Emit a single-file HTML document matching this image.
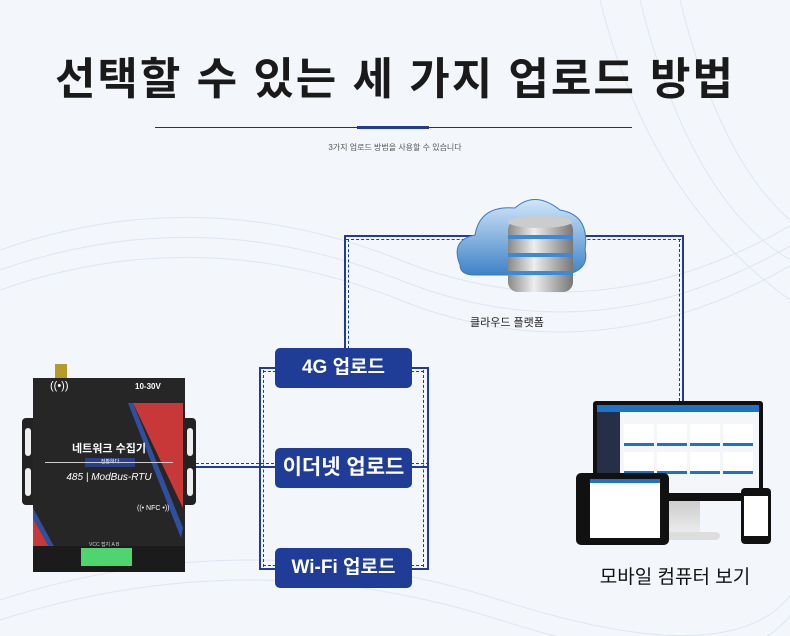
<!DOCTYPE html>
<html><head><meta charset="utf-8"><style>
*{margin:0;padding:0;box-sizing:border-box}
body{width:790px;height:636px;overflow:hidden;background:#f3f6fb;font-family:"Liberation Sans","Noto Sans CJK KR",sans-serif;position:relative}
.a{position:absolute}
.btn{position:absolute;background:#1f3d96;color:#fff;border-radius:5px;font-weight:bold;text-align:center;font-size:19px}
.sol{position:absolute;background:#1f3d96}
.ds{position:absolute;border:0 dashed #1f3d96}
.g{position:absolute;width:30px;height:22px;background:#fff;border-bottom:3px solid #1e73c8}
</style></head><body>
<svg class="a" style="left:0;top:0" width="790" height="636">
<g stroke="#dfe6f1" fill="none" stroke-width="1">
<path d="M0 250 Q200 180 400 260 T800 220"/><path d="M0 270 Q200 200 400 280 T800 240"/><path d="M0 290 Q200 220 400 300 T800 260"/>
<path d="M0 600 Q250 520 500 600 T800 580"/><path d="M0 620 Q250 540 500 620 T800 600"/>
<path d="M600 0 Q650 200 790 300"/><path d="M640 0 Q690 200 790 260"/><path d="M680 0 Q720 160 790 220"/>
</g></svg>
<div class="a" style="left:0;top:43px;width:790px;text-align:center;font-size:44px;font-weight:bold;color:#1a1a1a;letter-spacing:2px">선택할 수 있는 세 가지 업로드 방법</div>
<div class="a" style="left:155px;top:127px;width:477px;height:1px;background:#333"></div>
<div class="a" style="left:357px;top:126px;width:72px;height:3px;background:#1f3d96"></div>
<div class="a" style="left:0;top:142px;width:790px;text-align:center;font-size:8px;color:#555">3가지 업로드 방법을 사용할 수 있습니다</div>

<div class="sol" style="left:344px;top:235px;width:340px;height:2px"></div>
<div class="ds" style="left:346px;top:239px;width:335px;border-top-width:1px"></div>
<div class="sol" style="left:344px;top:235px;width:2px;height:115px"></div>
<div class="ds" style="left:348px;top:239px;height:110px;border-left-width:1px"></div>
<div class="sol" style="left:682px;top:235px;width:2px;height:168px"></div>
<div class="ds" style="left:679px;top:239px;height:162px;border-left-width:1px"></div>
<div class="sol" style="left:259px;top:367px;width:2px;height:203px"></div>
<div class="ds" style="left:263px;top:370px;height:197px;border-left-width:1px"></div>
<div class="sol" style="left:427px;top:367px;width:2px;height:203px"></div>
<div class="ds" style="left:423px;top:370px;height:197px;border-left-width:1px"></div>
<div class="sol" style="left:259px;top:367px;width:170px;height:2px"></div>
<div class="ds" style="left:263px;top:371px;width:161px;border-top-width:1px"></div>
<div class="sol" style="left:259px;top:568px;width:170px;height:2px"></div>
<div class="ds" style="left:263px;top:565px;width:161px;border-top-width:1px"></div>
<div class="sol" style="left:196px;top:466px;width:233px;height:2px"></div>
<div class="ds" style="left:196px;top:463px;width:233px;border-top-width:1px"></div>

<div class="btn" style="left:275px;top:348px;width:137px;height:40px;line-height:40px">4G 업로드</div>
<div class="btn" style="left:275px;top:448px;width:137px;height:40px;line-height:40px;font-size:21px">이더넷 업로드</div>
<div class="btn" style="left:275px;top:548px;width:137px;height:40px;line-height:40px">Wi-Fi 업로드</div>

<svg class="a" style="left:450px;top:190px" width="150" height="110">
<defs><linearGradient id="c" x1="0" y1="0" x2="0" y2="1"><stop offset="0" stop-color="#d2e6f8"/><stop offset="1" stop-color="#3f82c7"/></linearGradient>
<linearGradient id="d" x1="0" y1="0" x2="1" y2="0"><stop offset="0" stop-color="#888"/><stop offset=".4" stop-color="#eee"/><stop offset="1" stop-color="#777"/></linearGradient></defs>
<path d="M10 75 Q0 50 25 45 Q30 15 65 18 Q85 0 110 20 Q140 25 135 60 Q140 80 115 85 L25 85 Q10 85 10 75Z" fill="url(#c)" stroke="#3b79bf"/>
<rect x="58" y="30" width="65" height="72" rx="10" fill="url(#d)"/>
<rect x="58" y="45" width="65" height="4" fill="#3b8ad8"/><rect x="58" y="63" width="65" height="4" fill="#3b8ad8"/><rect x="58" y="81" width="65" height="4" fill="#3b8ad8"/>
<ellipse cx="90" cy="32" rx="32" ry="6" fill="#ccc"/>
</svg>
<div class="a" style="left:470px;top:314px;font-size:11px;color:#222">클라우드 플랫폼</div>

<div class="a" style="left:55px;top:364px;width:12px;height:18px;background:#b49b2a"></div>
<div class="a" style="left:22px;top:418px;width:174px;height:87px;background:#222;border-radius:4px"></div>
<div class="a" style="left:25px;top:428px;width:6px;height:28px;background:#eee;border-radius:3px"></div>
<div class="a" style="left:25px;top:468px;width:6px;height:28px;background:#eee;border-radius:3px"></div>
<div class="a" style="left:187px;top:428px;width:6px;height:28px;background:#eee;border-radius:3px"></div>
<div class="a" style="left:187px;top:468px;width:6px;height:28px;background:#eee;border-radius:3px"></div>
<div class="a" style="left:33px;top:378px;width:152px;height:194px;background:#262626"></div>
<svg class="a" style="left:33px;top:378px" width="152" height="194">
<polygon points="100,25 150,25 150,130" fill="#c83838"/><polygon points="95,25 100,25 150,150 148,160" fill="#2f4fa0"/>
<polygon points="0,140 0,194 30,194" fill="#c83838"/><polygon points="0,130 35,194 30,194 0,140" fill="#2f4fa0"/>
</svg>
<div class="a" style="left:135px;top:382px;font-size:8px;color:#fff;font-weight:bold">10-30V</div>
<div class="a" style="left:50px;top:380px;color:#fff;font-size:11px">((•))</div>
<div class="a" style="left:33px;top:440px;width:152px;text-align:center;color:#fff;font-size:11px;font-weight:bold">네트워크 수집기</div>
<div class="a" style="left:85px;top:458px;width:50px;height:9px;background:#2a3f8a;color:#fff;font-size:5px;text-align:center;line-height:9px">전환하다</div>
<div class="a" style="left:45px;top:462px;width:128px;height:1px;background:#ccc"></div>
<div class="a" style="left:33px;top:472px;width:152px;text-align:center;color:#fff;font-size:10px;font-style:italic">485 | ModBus-RTU</div>
<div class="a" style="left:137px;top:505px;color:#fff;font-size:7px">((• NFC •))</div>
<div class="a" style="left:33px;top:546px;width:152px;height:26px;background:#1b1b1b"></div>
<div class="a" style="left:89px;top:541px;font-size:5px;color:#ccc">VCC 접지 A B</div>
<div class="a" style="left:81px;top:548px;width:51px;height:18px;background:#4fd470"></div>

<div class="a" style="left:660px;top:500px;width:40px;height:35px;background:linear-gradient(#ccc,#eee)"></div>
<div class="a" style="left:640px;top:532px;width:80px;height:8px;background:#ddd;border-radius:4px"></div>
<div class="a" style="left:593px;top:401px;width:170px;height:100px;background:#111;border-radius:3px"></div>
<div class="a" style="left:597px;top:405px;width:162px;height:88px;background:#f4f6f9"></div>
<div class="a" style="left:597px;top:405px;width:162px;height:7px;background:#1e73c8"></div>
<div class="a" style="left:597px;top:412px;width:23px;height:81px;background:#253046"></div>
<div class="g" style="left:624px;top:424px"></div><div class="g" style="left:657px;top:424px"></div><div class="g" style="left:690px;top:424px"></div><div class="g" style="left:723px;top:424px"></div>
<div class="g" style="left:624px;top:452px"></div><div class="g" style="left:657px;top:452px"></div><div class="g" style="left:690px;top:452px"></div><div class="g" style="left:723px;top:452px"></div>
<div class="a" style="left:576px;top:473px;width:93px;height:72px;background:#111;border-radius:5px"></div>
<div class="a" style="left:590px;top:479px;width:70px;height:59px;background:#fff;border-top:4px solid #1e73c8"></div>
<div class="a" style="left:741px;top:488px;width:30px;height:56px;background:#111;border-radius:4px"></div>
<div class="a" style="left:744px;top:496px;width:24px;height:40px;background:#fff"></div>
<div class="a" style="left:560px;top:562px;width:230px;text-align:center;font-size:19px;color:#111">모바일 컴퓨터 보기</div>
</body></html>
